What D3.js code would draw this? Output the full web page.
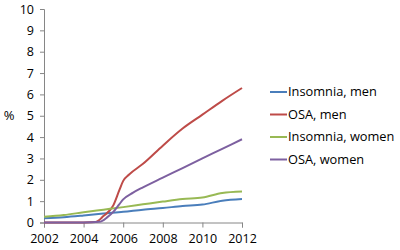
<!DOCTYPE html>
<html>
<head>
<meta charset="utf-8">
<script src="https://cdn.jsdelivr.net/npm/d3@7"></script>
<style>
  body { margin: 0; background: #fff; }
  svg { display: block; font-family: "Open Sans", "Noto Sans", sans-serif; }
</style>
</head>
<body>
<svg id="chart" width="400" height="250"></svg>
<script>
// Series names and colours (legend order)
const seriesNames = ["Insomnia, men", "OSA, men", "Insomnia, women", "OSA, women"];
const seriesColors = ["#4a7ebb", "#be4b48", "#98b954", "#7d60a0"];

// Values: [year, %]
const insomniaMen = [[2002, 0.2], [2003, 0.25], [2004, 0.33], [2005, 0.42], [2006, 0.5], [2007, 0.6],
  [2008, 0.68], [2009, 0.77], [2010, 0.84], [2011, 1.02], [2012, 1.1]];
const osaMen = [[2002, 0], [2003, 0], [2004, 0], [2004.6, 0.02], [2005, 0.3], [2005.5, 0.8],
  [2005.8, 1.5], [2006, 1.95], [2006.3, 2.25], [2007, 2.75], [2008, 3.6], [2009, 4.4],
  [2010, 5.05], [2011, 5.7], [2012, 6.3]];
const insomniaWomen = [[2002, 0.27], [2003, 0.35], [2004, 0.48], [2005, 0.6], [2006, 0.72], [2007, 0.85],
  [2008, 0.98], [2009, 1.1], [2010, 1.17], [2011, 1.38], [2012, 1.45]];
const osaWomen = [[2002, 0], [2003, 0], [2004, 0], [2004.8, 0.03], [2005.2, 0.25], [2005.5, 0.5],
  [2005.8, 0.85], [2006, 1.08], [2006.5, 1.4], [2007, 1.65], [2008, 2.1], [2009, 2.55],
  [2010, 3.0], [2011, 3.45], [2012, 3.9]];
const seriesData = [insomniaMen, osaMen, insomniaWomen, osaWomen];

const xTicks = [2002, 2004, 2006, 2008, 2010, 2012];
const yTicks = [0, 1, 2, 3, 4, 5, 6, 7, 8, 9, 10];

const svg = d3.select("#chart");

// Scales
const x = d3.scaleLinear().domain([2002, 2012]).range([44, 242]);
const y = d3.scaleLinear().domain([0, 10]).range([222.5, 9]);

// Axes
const axisColor = "#868686";
svg.append("g")
  .attr("transform", `translate(${x(2002)},0)`)
  .call(d3.axisLeft(y).tickValues(yTicks).tickSize(4).tickPadding(6));
svg.append("g")
  .attr("transform", `translate(0,${y(0)})`)
  .call(d3.axisBottom(x).tickValues(xTicks).tickFormat(d3.format("d")).tickSize(5).tickPadding(7));

svg.selectAll(".domain, .tick line").attr("stroke", axisColor);
svg.selectAll(".tick text")
  .attr("fill", "#000")
  .style("font-size", "12.5px")
  .style("font-family", "'Open Sans', sans-serif");

// Y label
svg.append("text")
  .attr("x", 9)
  .attr("y", y(5))
  .attr("dy", "0.35em")
  .attr("text-anchor", "middle")
  .style("font-size", "13px")
  .text("%");

// Lines
const line = d3.line()
  .x(d => x(d[0]))
  .y(d => y(d[1]))
  .curve(d3.curveMonotoneX);

seriesData.forEach((s, i) => {
  svg.append("path")
    .datum(s)
    .attr("fill", "none")
    .attr("stroke", seriesColors[i])
    .attr("stroke-width", 2)
    .attr("d", line);
});

// Legend
const legend = svg.append("g").attr("transform", "translate(270,92)");
seriesNames.forEach((name, i) => {
  const g = legend.append("g").attr("transform", `translate(0,${i * 22.5})`);
  g.append("line")
    .attr("x1", 0).attr("x2", 17)
    .attr("stroke", seriesColors[i])
    .attr("stroke-width", 2);
  g.append("text")
    .attr("x", 18)
    .attr("dy", "0.35em")
    .style("font-size", "12.8px")
    .text(name);
});
</script>
</body>
</html>
